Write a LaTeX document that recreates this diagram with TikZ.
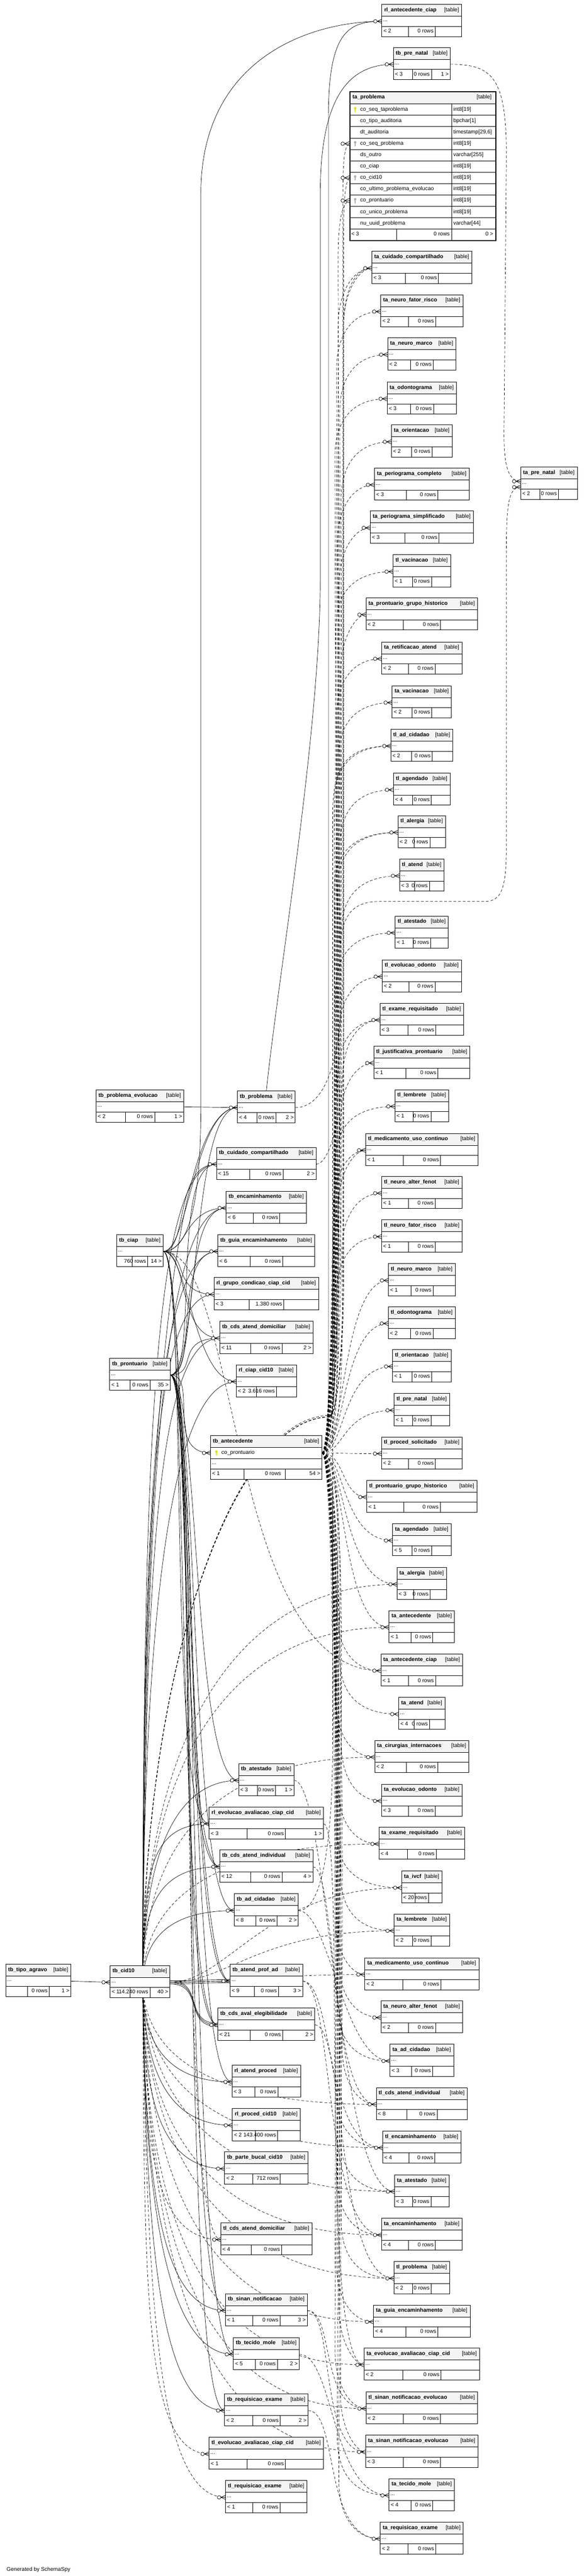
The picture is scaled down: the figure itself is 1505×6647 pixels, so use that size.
\documentclass[tikz,border=0pt]{standalone}
\usepackage{fontspec}
\setmainfont{Liberation Sans}
\usetikzlibrary{backgrounds,calc}
\definecolor{hdr}{RGB}{244,244,244}
\definecolor{pkc}{RGB}{225,225,0}
\definecolor{fkc}{RGB}{175,175,175}
\newlength\wA \newlength\wB \newlength\wC
\newcommand\ssfont{\fontsize{14pt}{16pt}\selectfont}
\tikzset{
 tt/.style={font=\ssfont, inner sep=0pt, text height=10pt, text depth=3pt},
 ttl/.style={font=\ssfont\bfseries, inner sep=0pt, text height=10pt, text depth=3pt},
 cell/.style={line width=0.8pt},
 outer/.style={draw, line width=1.3pt},
 fk/.style={line width=0.9pt},
 imp/.style={line width=0.9pt, dash pattern=on 7pt off 5pt},
 mkl/.style={line width=1pt}
}
% #1 name, #2 cx, #3 top, #4 width, #5 left, #6 rows, #7 right
\newcommand\sstab[7]{%
 \settowidth\wA{\ssfont #5}\settowidth\wB{\ssfont #6}\settowidth\wC{\ssfont #7}%
 \pgfmathsetmacro\tbex{(#4-\wA-\wB-\wC-24)/3}%
 \pgfmathsetmacro\tbxa{#2-#4/2}\pgfmathsetmacro\tbxb{#2+#4/2}%
 \pgfmathsetmacro\tbda{\tbxa+\wA+8+\tbex}%
 \pgfmathsetmacro\tbdb{\tbda+\wB+8+\tbex}%
 \pgfmathsetmacro\tbyb{#3+31}\pgfmathsetmacro\tbyc{#3+57}\pgfmathsetmacro\tbyd{#3+83}%
 \fill[white] (\tbxa,#3) rectangle (\tbxb,\tbyd);
 \fill[hdr] (\tbxa,#3) rectangle (\tbxb,\tbyb);
 \draw[cell] (\tbxa,\tbyb) -- (\tbxb,\tbyb) (\tbxa,\tbyc) -- (\tbxb,\tbyc)
   (\tbda,\tbyc) -- (\tbda,\tbyd) (\tbdb,\tbyc) -- (\tbdb,\tbyd);
 \node[outer, minimum width=#4pt, minimum height=83pt, anchor=north, inner sep=0pt] (#1) at (#2,#3) {};
 \node[ttl, anchor=west] at ({\tbxa+6},{#3+15.5}) {\detokenize{#1}};
 \node[tt, anchor=east] at ({\tbxb-7},{#3+15.5}) {[table]};
 \node[tt, anchor=west] at ({\tbxa+3},{#3+41}) {...};
 \node[tt, anchor=west] at ({\tbxa+4},{#3+70}) {#5};
 \node[tt, anchor=east] at ({\tbdb-4},{#3+70}) {#6};
 \node[tt, anchor=east] at ({\tbxb-4},{#3+70}) {#7};
 \coordinate (#1-in) at (\tbxa,{#3+44});
 \coordinate (#1-out) at (\tbxb,{#3+44});
}
\newcommand\ssmk[1]{%
 \fill[white] ($(#1)+(-17,0)$) circle (4.5pt);
 \draw[mkl] ($(#1)+(-17,0)$) circle (4.5pt);
 \draw[mkl] ($(#1)+(-12.5,0)$) -- ($(#1)+(0,-5.5)$) ($(#1)+(-12.5,0)$) -- (#1) ($(#1)+(-12.5,0)$) -- ($(#1)+(0,5.5)$);
}
\newcommand\sskey[3]{\fill[#3] (#1,{#2-3.5}) circle (3.3pt); \draw[#3, line width=2.4pt] (#1,{#2-3.5}) -- (#1,{#2+7});}
\newcommand\ssrow[3]{\node[tt,anchor=west] at (929,#1) {\detokenize{#2}}; \node[tt,anchor=west] at (1169,#1) {#3};}

\begin{document}
\begin{tikzpicture}[x=1pt,y=-1pt]
\useasboundingbox (0,0) rectangle (1505,6647);
\begin{scope}[on background layer]
\fill[white] (0,0) rectangle (1505,6647);
\end{scope}

% ---------- right column ----------
\sstab{rl_antecedente_ciap}{1088}{11}{206}{< 2}{0 rows}{}
\sstab{tb_pre_natal}{1088}{122}{147}{< 3}{0 rows}{1 >}
\sstab{ta_cuidado_compartilhado}{1088}{648}{258}{< 3}{0 rows}{}
\sstab{ta_neuro_fator_risco}{1088}{760}{212}{< 2}{0 rows}{}
\sstab{ta_neuro_marco}{1088}{871}{176}{< 2}{0 rows}{}
\sstab{ta_odontograma}{1088}{985}{179}{< 3}{0 rows}{}
\sstab{ta_orientacao}{1088}{1096}{157}{< 2}{0 rows}{}
\sstab{ta_periograma_completo}{1088}{1207}{244}{< 3}{0 rows}{}
\sstab{ta_periograma_simplificado}{1088}{1318}{266}{< 3}{0 rows}{}
\sstab{tl_vacinacao}{1088}{1431}{148}{< 1}{0 rows}{}
\sstab{ta_prontuario_grupo_historico}{1088}{1542}{288}{< 2}{0 rows}{}
\sstab{ta_retificacao_atend}{1088}{1656}{207}{< 2}{0 rows}{}
\sstab{ta_vacinacao}{1088}{1769}{153}{< 2}{0 rows}{}
\sstab{tl_ad_cidadao}{1088}{1881}{160}{< 2}{0 rows}{}
\sstab{tl_agendado}{1088}{1994}{146}{< 4}{0 rows}{}
\sstab{tl_alergia}{1088}{2104}{123}{< 2}{0 rows}{}
\sstab{tl_atend}{1088}{2216}{115}{< 3}{0 rows}{}
\sstab{tl_atestado}{1088}{2363}{137}{< 1}{0 rows}{}
\sstab{tl_evolucao_odonto}{1088}{2476}{204}{< 2}{0 rows}{}
\sstab{tl_exame_requisitado}{1088}{2588}{216}{< 3}{0 rows}{}
\sstab{tl_justificativa_prontuario}{1088}{2699}{248}{< 1}{0 rows}{}
\sstab{tl_lembrete}{1088}{2811}{139}{< 1}{0 rows}{}
\sstab{tl_medicamento_uso_continuo}{1088}{2924}{290}{< 1}{0 rows}{}
\sstab{tl_neuro_alter_fenot}{1088}{3035}{207}{< 1}{0 rows}{}
\sstab{tl_neuro_fator_risco}{1088}{3147}{208}{< 1}{0 rows}{}
\sstab{tl_neuro_marco}{1088}{3260}{172}{< 1}{0 rows}{}
\sstab{tl_odontograma}{1088}{3371}{173}{< 2}{0 rows}{}
\sstab{tl_orientacao}{1088}{3482}{151}{< 1}{0 rows}{}
\sstab{tl_pre_natal}{1088}{3595}{143}{< 1}{0 rows}{}
\sstab{tl_proced_solicitado}{1088}{3707}{208}{< 2}{0 rows}{}
\sstab{tl_prontuario_grupo_historico}{1088}{3819}{284}{< 1}{0 rows}{}
\sstab{ta_agendado}{1088}{3931}{151}{< 5}{0 rows}{}
\sstab{ta_alergia}{1088}{4044}{128}{< 3}{0 rows}{}
\sstab{ta_antecedente}{1088}{4155}{169}{< 1}{0 rows}{}
\sstab{ta_antecedente_ciap}{1088}{4267}{211}{< 1}{0 rows}{}
\sstab{ta_atend}{1088}{4379}{119}{< 4}{0 rows}{}
\sstab{ta_cirurgias_internacoes}{1088}{4490}{243}{< 2}{0 rows}{}
\sstab{ta_evolucao_odonto}{1088}{4603}{208}{< 3}{0 rows}{}
\sstab{ta_exame_requisitado}{1088}{4714}{221}{< 4}{0 rows}{}
\sstab{ta_ivcf}{1088}{4827}{104}{< 2}{0 rows}{}
\sstab{ta_lembrete}{1088}{4938}{143}{< 2}{0 rows}{}
\sstab{ta_medicamento_uso_continuo}{1088}{5051}{294}{< 2}{0 rows}{}
\sstab{ta_neuro_alter_fenot}{1088}{5162}{211}{< 2}{0 rows}{}
\sstab{ta_ad_cidadao}{1088}{5274}{164}{< 3}{0 rows}{}
\sstab{tl_cds_atend_individual}{1088}{5386}{235}{< 8}{0 rows}{}
\sstab{tl_encaminhamento}{1088}{5498}{202}{< 4}{0 rows}{}
\sstab{ta_atestado}{1088}{5611}{141}{< 3}{0 rows}{}
\sstab{ta_encaminhamento}{1088}{5723}{208}{< 4}{0 rows}{}
\sstab{tl_problema}{1088}{5835}{144}{< 2}{0 rows}{}
\sstab{ta_guia_encaminhamento}{1088}{5947}{249}{< 4}{0 rows}{}
\sstab{ta_evolucao_avaliacao_ciap_cid}{1088}{6058}{298}{< 2}{0 rows}{}
\sstab{tl_sinan_notificacao_evolucao}{1088}{6171}{288}{< 2}{0 rows}{}
\sstab{ta_sinan_notificacao_evolucao}{1088}{6283}{290}{< 3}{0 rows}{}
\sstab{ta_tecido_mole}{1088}{6395}{169}{< 4}{0 rows}{}
\sstab{ta_requisicao_exame}{1088}{6507}{214}{< 2}{0 rows}{}

% far right
\sstab{ta_pre_natal}{1416}{1205}{146}{< 2}{0 rows}{}

% ---------- ta_problema (expanded) ----------
\fill[white] (901,235) rectangle (1277,619);
\fill[hdr] (901,235) rectangle (1277,268);
\foreach \yy in {268,297.4,326.7,356.1,385.4,414.8,444.2,473.5,502.9,532.2,561.6,591} {\draw[cell] (901,\yy) -- (1277,\yy);}
\draw[cell] (1165,268) -- (1165,619) (1023,591) -- (1023,619);
\node[draw, line width=3pt, minimum width=376pt, minimum height=384pt, anchor=north west, inner sep=0pt] (ta_problema) at (901,235) {};
\node[ttl, anchor=west] at (909,251.5) {\detokenize{ta_problema}};
\node[tt, anchor=east] at (1268,251.5) {[table]};
\ssrow{282.7}{co_seq_taproblema}{int8[19]}
\ssrow{312.1}{co_tipo_auditoria}{bpchar[1]}
\ssrow{341.4}{dt_auditoria}{timestamp[29,6]}
\ssrow{370.8}{co_seq_problema}{int8[19]}
\ssrow{400.1}{ds_outro}{varchar[255]}
\ssrow{429.5}{co_ciap}{int8[19]}
\ssrow{458.9}{co_cid10}{int8[19]}
\ssrow{488.2}{co_ultimo_problema_evolucao}{int8[19]}
\ssrow{517.6}{co_prontuario}{int8[19]}
\ssrow{546.9}{co_unico_problema}{int8[19]}
\ssrow{576.3}{nu_uuid_problema}{varchar[44]}
\sskey{916}{282.7}{pkc}
\sskey{916}{370.8}{fkc}
\sskey{916}{458.9}{fkc}
\sskey{916}{517.6}{fkc}
\node[tt, anchor=west] at (906,605) {< 3};
\node[tt, anchor=east] at (1160,605) {0 rows};
\node[tt, anchor=east] at (1272,605) {0 >};
\coordinate (tap-a) at (901,370.8);
\coordinate (tap-b) at (901,458.9);
\coordinate (tap-c) at (901,517.6);
\coordinate (tapn-a) at (1343,1242);
\coordinate (tapn-b) at (1343,1257);

% ---------- middle column ----------
\sstab{tb_problema}{687}{2814}{149}{< 4}{0 rows}{2 >}
\sstab{tb_cuidado_compartilhado}{687}{2960}{257}{< 15}{0 rows}{2 >}
\sstab{tb_encaminhamento}{687}{3073}{207}{< 6}{0 rows}{}
\sstab{tb_guia_encaminhamento}{687}{3185}{250}{< 6}{0 rows}{}
\sstab{rl_grupo_condicao_ciap_cid}{687}{3296}{270}{< 3}{1.380 rows}{}
\sstab{tb_cds_atend_domiciliar}{687}{3409}{240}{< 11}{0 rows}{2 >}
\sstab{rl_ciap_cid10}{687}{3521}{155}{< 2}{3.616 rows}{}
% tb_antecedente (with key row)
\fill[white] (543,3704) rectangle (830,3816);
\fill[hdr] (543,3704) rectangle (830,3734);
\draw[cell] (543,3734) -- (830,3734) (543,3764) -- (830,3764) (543,3790) -- (830,3790) (629,3790) -- (629,3816) (736,3790) -- (736,3816);
\node[outer, minimum width=287pt, minimum height=112pt, anchor=north west, inner sep=0pt] (tb_antecedente) at (543,3704) {};
\node[ttl, anchor=west] at (549,3719) {\detokenize{tb_antecedente}};
\node[tt, anchor=east] at (823,3719) {[table]};
\sskey{558}{3749}{pkc}
\node[tt, anchor=west] at (571,3749) {\detokenize{co_prontuario}};
\node[tt, anchor=west] at (546,3775) {...};
\node[tt, anchor=west] at (547,3803) {< 1};
\node[tt, anchor=east] at (725,3803) {0 rows};
\node[tt, anchor=east] at (826,3803) {54 >};
\coordinate (tb_antecedente-in) at (543,3749);
\coordinate (tb_antecedente-out) at (830,3749);
\sstab{tb_atestado}{687}{4550}{143}{< 3}{0 rows}{1 >}
\sstab{rl_evolucao_avaliacao_ciap_cid}{687}{4662}{295}{< 3}{0 rows}{1 >}
\sstab{tb_cds_atend_individual}{687}{4773}{240}{< 12}{0 rows}{4 >}
\sstab{tb_ad_cidadao}{687}{4886}{165}{< 8}{0 rows}{2 >}
\sstab{tb_atend_prof_ad}{687}{5068}{187}{< 9}{0 rows}{3 >}
\sstab{tb_cds_aval_elegibilidade}{687}{5181}{250}{< 21}{0 rows}{2 >}
\sstab{rl_atend_proced}{687}{5328}{177}{< 3}{0 rows}{}
\sstab{rl_proced_cid10}{687}{5440}{175}{< 2}{143.400 rows}{}
\sstab{tb_parte_bucal_cid10}{687}{5552}{215}{< 2}{712 rows}{}
\sstab{tl_cds_atend_domiciliar}{687}{5735}{235}{< 4}{0 rows}{}
\sstab{tb_sinan_notificacao}{687}{5918}{211}{< 1}{0 rows}{3 >}
\sstab{tb_tecido_mole}{687}{6031}{170}{< 5}{0 rows}{2 >}
\sstab{tb_requisicao_exame}{687}{6176}{215}{< 2}{0 rows}{2 >}
\sstab{tl_evolucao_avaliacao_ciap_cid}{687}{6288}{295}{< 1}{0 rows}{}
\sstab{tl_requisicao_exame}{687}{6400}{210}{< 1}{0 rows}{}

% ---------- left column ----------
\sstab{tb_problema_evolucao}{361}{2812}{226}{< 2}{0 rows}{1 >}
\sstab{tb_ciap}{361}{3185}{120}{}{760 rows}{14 >}
\sstab{tb_prontuario}{361}{3504}{156}{< 1}{0 rows}{35 >}
\sstab{tb_cid10}{361}{5071}{154}{< 1}{14.240 rows}{40 >}
\sstab{tb_tipo_agravo}{99}{5068}{168}{}{0 rows}{1 >}
\coordinate (cid-h) at (368,5113);

\node[tt, anchor=west] (gen) at (17,6631) {Generated by SchemaSpy};

% ---------- connectors ----------
\begin{scope}[on background layer]
% tb_antecedente bundle, upward
\foreach \nm/\yy/\bx in {ta_cuidado_compartilhado/692/872, ta_neuro_fator_risco/804/868, ta_neuro_marco/915/876, ta_odontograma/1029/864, ta_orientacao/1140/880, ta_periograma_completo/1251/870, ta_periograma_simplificado/1362/874, tl_vacinacao/1475/866, ta_prontuario_grupo_historico/1586/878, ta_retificacao_atend/1700/868, ta_vacinacao/1813/872, tl_ad_cidadao/1925/862, tl_agendado/2038/876, tl_alergia/2148/870, tl_atend/2260/880, tl_atestado/2407/866, tl_evolucao_odonto/2520/874, tl_exame_requisitado/2632/870, tl_justificativa_prontuario/2743/878, tl_lembrete/2855/864, tl_medicamento_uso_continuo/2968/872, tl_neuro_alter_fenot/3079/882, tl_neuro_fator_risco/3191/868}
{\draw[imp] (tb_antecedente-out) .. controls ({\bx+12},3749) and (\bx,{\yy+300}) .. (\bx,{\yy+150}) .. controls (\bx,{\yy+60}) and ({\bx+40},\yy) .. (\nm-in);}
% tb_antecedente bundle, downward
\foreach \nm/\yy/\bx in {ta_antecedente_ciap/4311/870, ta_atend/4423/876, ta_cirurgias_internacoes/4534/866, ta_evolucao_odonto/4647/880, ta_exame_requisitado/4758/872, ta_ivcf/4871/868, ta_lembrete/4982/878, ta_medicamento_uso_continuo/5095/864, ta_neuro_alter_fenot/5206/874, ta_ad_cidadao/5318/870, tl_cds_atend_individual/5430/882, tl_encaminhamento/5542/866, ta_atestado/5655/876, ta_encaminhamento/5767/870, tl_problema/5879/880, ta_guia_encaminhamento/5991/868, ta_evolucao_avaliacao_ciap_cid/6102/874, tl_sinan_notificacao_evolucao/6215/864, ta_sinan_notificacao_evolucao/6327/878, ta_tecido_mole/6439/870, ta_requisicao_exame/6551/874}
{\draw[imp] (tb_antecedente-out) .. controls ({\bx+12},3749) and (\bx,{\yy-300}) .. (\bx,{\yy-150}) .. controls (\bx,{\yy-60}) and ({\bx+40},\yy) .. (\nm-in);}
% tb_antecedente, near targets
\foreach \nm/\yy in {tl_neuro_marco/3304, tl_odontograma/3415, tl_orientacao/3526, tl_pre_natal/3639, tl_proced_solicitado/3751, tl_prontuario_grupo_historico/3863, ta_agendado/3975, ta_alergia/4088, ta_antecedente/4199}
{\draw[imp] (tb_antecedente-out) .. controls (890,3749) and (880,\yy) .. (\nm-in);}
% tb_antecedente special
\draw[imp] (tb_antecedente-out) .. controls (884,3749) and (872,820) .. (872,670) .. controls (872,580) and (880,525) .. (tap-c);
\draw[imp] (tb_antecedente-out) .. controls (886,3749) and (876,2650) .. (876,2480) .. controls (876,2370) and (900,2326) .. (980,2326) -- (1250,2326) .. controls (1295,2326) and (1306,2290) .. (1306,2180) -- (1306,1420) .. controls (1306,1300) and (1312,1257) .. (tapn-b);
\draw[fk] (tb_antecedente-out) .. controls (846,3749) and (847,3700) .. (847,3560) -- (847,300) .. controls (847,80) and (900,55) .. (rl_antecedente_ciap-in);
% tb_pre_natal -> ta_pre_natal
\draw[imp] (tb_pre_natal-out) .. controls (1270,166) and (1306,200) .. (1306,400) -- (1300,1100) .. controls (1298,1200) and (1310,1242) .. (tapn-a);
% tb_ciap -> rl_antecedente_ciap
\draw[fk] (tb_ciap-out) .. controls (500,3229) and (518,3050) .. (518,2850) -- (518,500) .. controls (518,150) and (800,55) .. (rl_antecedente_ciap-in);
% tb_problema -> tb_pre_natal, ta_problema
\draw[fk] (tb_problema.north) .. controls (720,2500) and (824,1900) .. (826,1500) -- (826,500) .. controls (826,250) and (900,166) .. (tb_pre_natal-in);
\draw[imp] (tb_problema-out) .. controls (850,2858) and (884,2700) .. (884,2500) -- (884,560) .. controls (884,420) and (886,380) .. (tap-a);
% tb_cid10 -> ta_problema via bundle
\draw[imp] (cid-h) .. controls (372,4300) and (600,3655) .. (850,3652) .. controls (868,3650) and (886,3500) .. (886,3300) -- (886,620) .. controls (886,520) and (890,470) .. (tap-b);
\foreach \nm/\yy/\bx in {tl_alergia/2148/862, tl_exame_requisitado/2632/884, tl_medicamento_uso_continuo/2968/860, ta_cuidado_compartilhado/692/886}
{\draw[imp] (cid-h) .. controls (372,4300) and (600,3660) .. (850,3656) .. controls (868,3654) and (\bx,3500) .. (\bx,3300) -- (\bx,{\yy+150}) .. controls (\bx,{\yy+60}) and ({\bx+40},\yy) .. (\nm-in);}
% tb_cid10 dashed direct up
\foreach \nm/\yy in {ta_alergia/4088, ta_antecedente/4199, ta_cirurgias_internacoes/4534, ta_exame_requisitado/4758}
{\draw[imp] (cid-h) .. controls (372,{5113-0.6*(5113-\yy)}) and +(-420,0) .. (\nm-in);}
\draw[imp] (tb_cid10-out) .. controls +(150,0) and +(-350,0) .. (ta_lembrete-in);
\draw[imp] (tb_cid10-out) .. controls +(150,0) and +(-350,0) .. (ta_ivcf-in);
\draw[imp] (tb_cid10-out) .. controls +(200,0) and +(-250,0) .. (ta_medicamento_uso_continuo-in);
% tb_cid10 solid up to middle
\foreach \nm/\yy/\kk in {tb_problema/2858/0, tb_cuidado_compartilhado/3004/4, tb_encaminhamento/3117/8, tb_guia_encaminhamento/3229/2, rl_grupo_condicao_ciap_cid/3340/6, tb_cds_atend_domiciliar/3453/10, rl_ciap_cid10/3565/3, tb_atestado/4594/5, rl_evolucao_avaliacao_ciap_cid/4706/9, tb_cds_atend_individual/4817/1, tb_ad_cidadao/4930/7}
{\draw[fk] (cid-h) .. controls ({366+\kk},{5113-0.6*(5113-\yy)}) and +(-170,0) .. (\nm-in);}
% tb_cid10 solid near level
\foreach \sh in {-4,0,4}{
\draw[fk] ([yshift=\sh pt]tb_cid10-out) .. controls +(70,0) and +(-70,0) .. ([yshift=\sh pt]tb_atend_prof_ad-in);
\draw[fk] ([yshift=\sh pt]tb_cid10-out) .. controls +(90,0) and +(-90,0) .. ([yshift=\sh pt]tb_cds_aval_elegibilidade-in);
}
% tb_cid10 solid down
\foreach \nm/\yy/\kk in {rl_atend_proced/5372/0, rl_proced_cid10/5484/5, tb_parte_bucal_cid10/5596/2, tb_sinan_notificacao/5962/8, tb_tecido_mole/6075/4, tb_requisicao_exame/6220/10}
{\draw[fk] (cid-h) .. controls ({366+\kk},{5113+0.6*(\yy-5113)}) and +(-170,0) .. (\nm-in);}
% tb_cid10 dashed down (middle)
\foreach \nm/\yy/\kk in {tl_cds_atend_domiciliar/5779/3, tl_evolucao_avaliacao_ciap_cid/6332/7, tl_requisicao_exame/6444/12}
{\draw[imp] (cid-h) .. controls ({366+\kk},{5113+0.65*(\yy-5113)}) and +(-170,0) .. (\nm-in);}
% tb_cid10 dashed down (right column)
\foreach \nm/\yy/\kk in {tl_cds_atend_individual/5430/2, tl_encaminhamento/5542/6, ta_atestado/5655/10, ta_encaminhamento/5767/4, tl_problema/5879/8, ta_guia_encaminhamento/5991/12, ta_evolucao_avaliacao_ciap_cid/6102/5, tl_sinan_notificacao_evolucao/6215/9, ta_sinan_notificacao_evolucao/6327/14}
{\draw[imp] (cid-h) .. controls ({368+\kk},{5113+0.65*(\yy-5113)}) and +(-400,0) .. (\nm-in);}
% tb_prontuario
\foreach \nm in {tb_problema, tb_cuidado_compartilhado, tb_encaminhamento, tb_guia_encaminhamento, tb_cds_atend_domiciliar, tb_antecedente, tb_atestado, tb_cds_atend_individual, tb_ad_cidadao, tb_atend_prof_ad, tb_cds_aval_elegibilidade, rl_atend_proced, tb_sinan_notificacao, tb_tecido_mole, tb_requisicao_exame}
{\draw[fk] (tb_prontuario-out) .. controls +(75,0) and +(-120,0) .. (\nm-in);}
\draw[imp] (tb_prontuario-out) .. controls +(75,0) and +(-120,0) .. (tl_cds_atend_domiciliar-in);
% tb_ciap
\foreach \nm in {tb_problema, tb_cuidado_compartilhado, tb_encaminhamento, tb_guia_encaminhamento, rl_grupo_condicao_ciap_cid, tb_cds_atend_domiciliar, rl_ciap_cid10, rl_evolucao_avaliacao_ciap_cid, tb_cds_atend_individual, tb_atend_prof_ad, tb_cds_aval_elegibilidade}
{\draw[fk] (tb_ciap-out) .. controls +(65,0) and +(-110,0) .. (\nm-in);}
\draw[imp] (tb_ciap-out) .. controls +(200,0) and +(-400,0) .. (ta_antecedente_ciap-in);
% middle -> right
\draw[imp] (tb_cuidado_compartilhado-out) .. controls (850,3004) and (886,2880) .. (886,2700) -- (886,850) .. controls (886,740) and (920,692) .. (ta_cuidado_compartilhado-in);
\draw[imp] (tb_atestado-out) .. controls +(90,0) and +(-150,0) .. (ta_atestado-in);
\draw[imp] (rl_evolucao_avaliacao_ciap_cid-out) .. controls +(60,0) and +(-120,0) .. (ta_evolucao_avaliacao_ciap_cid-in);
\draw[imp] (tb_cds_atend_individual-out) .. controls +(60,0) and +(-120,0) .. (tl_cds_atend_individual-in);
\draw[imp] (tb_ad_cidadao-out) .. controls +(80,0) and +(-120,0) .. (ta_ad_cidadao-in);
\draw[imp] (tb_ad_cidadao-out) .. controls (840,4930) and (858,4700) .. (858,4500) -- (858,2100) .. controls (858,1970) and (900,1925) .. (tl_ad_cidadao-in);
\draw[imp] (tb_sinan_notificacao-out) .. controls +(70,0) and +(-120,0) .. (tl_sinan_notificacao_evolucao-in);
\draw[imp] (tb_sinan_notificacao-out) .. controls +(70,0) and +(-120,0) .. (ta_sinan_notificacao_evolucao-in);
\draw[imp] (tb_tecido_mole-out) .. controls +(90,0) and +(-150,0) .. (ta_tecido_mole-in);
\draw[imp] (tb_requisicao_exame-out) .. controls +(80,0) and +(-150,0) .. (ta_requisicao_exame-in);
\draw[imp] (tb_atend_prof_ad-out) .. controls +(80,0) and +(-150,0) .. (tl_encaminhamento-in);
\draw[imp] (tb_atend_prof_ad-out) .. controls +(80,0) and +(-150,0) .. (ta_encaminhamento-in);
\draw[imp] (tb_cds_aval_elegibilidade-out) .. controls +(80,0) and +(-150,0) .. (tl_problema-in);
% singles
\draw[fk] (tb_problema_evolucao-out) -- (tb_problema-in);
\draw[fk] (tb_tipo_agravo-out) -- (tb_cid10-in);
\end{scope}

% ---------- markers ----------
\foreach \nm in {rl_antecedente_ciap, tb_pre_natal, ta_cuidado_compartilhado, ta_neuro_fator_risco, ta_neuro_marco, ta_odontograma, ta_orientacao, ta_periograma_completo, ta_periograma_simplificado, tl_vacinacao, ta_prontuario_grupo_historico, ta_retificacao_atend, ta_vacinacao, tl_ad_cidadao, tl_agendado, tl_alergia, tl_atend, tl_atestado, tl_evolucao_odonto, tl_exame_requisitado, tl_justificativa_prontuario, tl_lembrete, tl_medicamento_uso_continuo, tl_neuro_alter_fenot, tl_neuro_fator_risco, tl_neuro_marco, tl_odontograma, tl_orientacao, tl_pre_natal, tl_proced_solicitado, tl_prontuario_grupo_historico, ta_agendado, ta_alergia, ta_antecedente, ta_antecedente_ciap, ta_atend, ta_cirurgias_internacoes, ta_evolucao_odonto, ta_exame_requisitado, ta_ivcf, ta_lembrete, ta_medicamento_uso_continuo, ta_neuro_alter_fenot, ta_ad_cidadao, tl_cds_atend_individual, tl_encaminhamento, ta_atestado, ta_encaminhamento, tl_problema, ta_guia_encaminhamento, ta_evolucao_avaliacao_ciap_cid, tl_sinan_notificacao_evolucao, ta_sinan_notificacao_evolucao, ta_tecido_mole, ta_requisicao_exame}
{\ssmk{\nm-in}}
\foreach \nm in {tb_problema, tb_cuidado_compartilhado, tb_encaminhamento, tb_guia_encaminhamento, rl_grupo_condicao_ciap_cid, tb_cds_atend_domiciliar, rl_ciap_cid10, tb_antecedente, tb_atestado, rl_evolucao_avaliacao_ciap_cid, tb_cds_atend_individual, tb_ad_cidadao, tb_atend_prof_ad, tb_cds_aval_elegibilidade, rl_atend_proced, rl_proced_cid10, tb_parte_bucal_cid10, tl_cds_atend_domiciliar, tb_sinan_notificacao, tb_tecido_mole, tb_requisicao_exame, tl_evolucao_avaliacao_ciap_cid, tl_requisicao_exame, tb_cid10}
{\ssmk{\nm-in}}
\ssmk{tap-a}
\ssmk{tap-b}
\ssmk{tap-c}
\ssmk{tapn-a}
\ssmk{tapn-b}
\end{tikzpicture}
\end{document}
